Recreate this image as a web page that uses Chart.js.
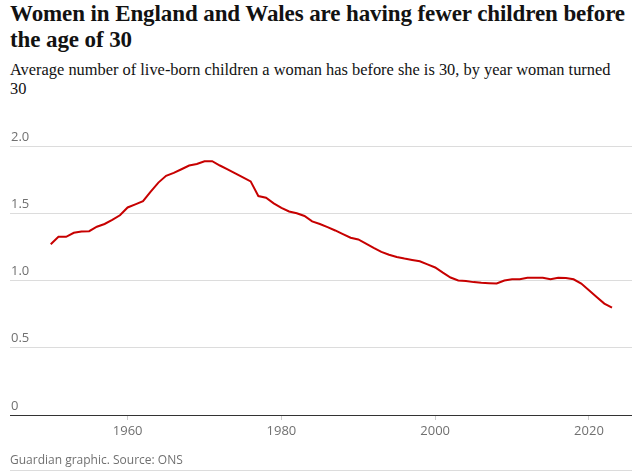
<!DOCTYPE html>
<html>
<head>
<meta charset="utf-8">
<script src="https://cdn.jsdelivr.net/npm/chart.js@4.4.0/dist/chart.umd.min.js"></script>
<style>
  html, body { margin: 0; padding: 0; background: #fff; }
  body { width: 632px; height: 473px; position: relative; overflow: hidden; }
  #title { position: absolute; left: 10px; top: 1px; width: 622px;
    font-family: "Liberation Serif", serif; font-weight: bold; font-size: 23px;
    line-height: 26px; color: #121212; letter-spacing: -0.1px; white-space: nowrap; }
  #subtitle { position: absolute; left: 10px; top: 60px; width: 622px;
    font-family: "Liberation Serif", serif; font-size: 16.4px; line-height: 19px; color: #121212; white-space: nowrap; }
  #footer { position: absolute; left: 10px; top: 451px;
    font-family: "Open Sans", sans-serif; font-size: 12px; color: #707070; }
  #rule { position: absolute; left: 10px; right: 0; top: 470px; height: 1px; background: #dcdcdc; }
  #wrap { position: absolute; left: 0; top: 0; width: 632px; height: 473px; }
</style>
</head>
<body>
<div id="title">Women in England and Wales are having fewer children before<br>the age of 30</div>
<div id="subtitle">Average number of live-born children a woman has before she is 30, by year woman turned<br>30</div>
<div id="wrap"><canvas id="c" width="632" height="473"></canvas></div>
<div id="footer">Guardian graphic. Source: ONS</div>
<div id="rule"></div>
<script>
const years = [1950,1951,1952,1953,1954,1955,1956,1957,1958,1959,
  1960,1961,1962,1963,1964,1965,1966,1967,1968,1969,
  1970,1971,1972,1973,1974,1975,1976,1977,1978,1979,
  1980,1981,1982,1983,1984,1985,1986,1987,1988,1989,
  1990,1991,1992,1993,1994,1995,1996,1997,1998,1999,
  2000,2001,2002,2003,2004,2005,2006,2007,2008,2009,
  2010,2011,2012,2013,2014,2015,2016,2017,2018,2019,
  2020,2021,2022,2023];
const childrenBefore30 = [1.27,1.325,1.325,1.355,1.365,1.367,1.40,1.42,1.45,1.485,
  1.543,1.566,1.59,1.66,1.728,1.778,1.80,1.827,1.855,1.866,
  1.887,1.887,1.855,1.827,1.797,1.767,1.737,1.628,1.616,1.574,
  1.54,1.513,1.50,1.48,1.44,1.42,1.397,1.372,1.345,1.318,
  1.305,1.275,1.243,1.213,1.192,1.175,1.163,1.153,1.143,1.12,
  1.097,1.058,1.022,1.0,0.997,0.988,0.983,0.98,0.978,1.0,
  1.009,1.01,1.02,1.02,1.02,1.01,1.02,1.019,1.009,0.977,
  0.928,0.877,0.828,0.798];
const xTicks = [1960, 1980, 2000, 2020];
const yTicks = [0, 0.5, 1.0, 1.5, 2.0];

const points = years.map((y, i) => ({ x: y, y: childrenBefore30[i] }));

new Chart(document.getElementById('c'), {
  type: 'line',
  data: { datasets: [{ data: points, borderColor: '#c70000', borderWidth: 2,
    pointRadius: 0, tension: 0, fill: false }] },
  options: {
    responsive: false, animation: false,
    layout: { padding: { left: 10, right: 0, top: 146, bottom: 28 } },
    plugins: { legend: { display: false }, tooltip: { enabled: false } },
    scales: {
      x: {
        type: 'linear', min: 1944.7, max: 2025.6,
        afterBuildTicks: s => { s.ticks = xTicks.map(v => ({ value: v })); },
        afterFit: s => { s.height = 30; },
        border: { display: false },
        grid: { drawOnChartArea: false, drawTicks: true, tickLength: 5, color: '#cccccc' },
        ticks: { padding: 3, color: '#707070', font: { family: 'Open Sans', size: 13 },
          maxRotation: 0, callback: v => String(v) }
      },
      y: {
        min: 0, max: 2.0,
        afterBuildTicks: s => { s.ticks = yTicks.map(v => ({ value: v })); },
        afterFit: s => { s.width = 0; },
        border: { display: false },
        grid: { drawTicks: false, color: c => c.tick && c.tick.value === 0 ? '#333333' : '#dcdcdc', lineWidth: 1 },
        ticks: { mirror: true, padding: 1, labelOffset: -9, color: '#707070',
          font: { family: 'Open Sans', size: 13 },
          callback: v => v === 0 ? '0' : v.toFixed(1) }
      }
    }
  }
});
</script>
</body>
</html>
